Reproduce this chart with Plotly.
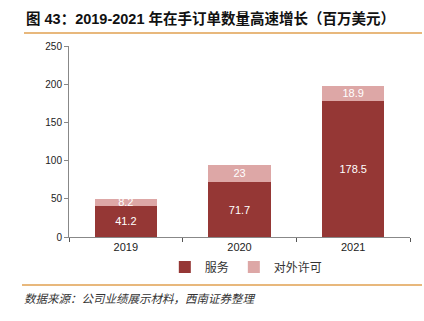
import plotly.graph_objects as go

years = ["2019", "2020", "2021"]
services = [41.2, 71.7, 178.5]
licensing = [8.2, 23, 18.9]
series_names = ["服务", "对外许可"]
y_ticks = [0, 50, 100, 150, 200, 250]

title_text = "图 43：2019-2021 年在手订单数量高速增长（百万美元）"
source_text = "数据来源：公司业绩展示材料，西南证券整理"

dark_red = "#953735"
light_pink = "#DDA7A6"
font_family = "Liberation Sans, Arial, Noto Sans CJK SC, sans-serif"

fig = go.Figure()
fig.add_trace(go.Bar(
    x=years, y=services, name=series_names[0],
    marker=dict(color=dark_red, line=dict(width=0)),
    text=[str(v) for v in services], textposition="inside",
    insidetextanchor="middle", constraintext="none",
    textfont=dict(color="white", size=11, family=font_family),
))
fig.add_trace(go.Bar(
    x=years, y=licensing, name=series_names[1],
    marker=dict(color=light_pink, line=dict(width=0)),
    text=[str(v) for v in licensing], textposition="inside",
    insidetextanchor="middle", constraintext="none",
    textfont=dict(color="white", size=11, family=font_family),
))

fig.update_layout(
    barmode="stack",
    bargap=0.45,
    width=424, height=321,
    margin=dict(l=69, r=14, t=46, b=84),
    paper_bgcolor="white", plot_bgcolor="white",
    font=dict(family=font_family, size=11, color="#222"),
    showlegend=True,
    legend=dict(
        orientation="h", x=0.52, xanchor="center",
        y=-(267 - 237) / 191, yanchor="middle",
        font=dict(size=12, family="Noto Sans CJK SC, sans-serif", color="#333"),
        itemwidth=30, traceorder="normal",
    ),
)

fig.update_yaxes(
    range=[0, 250], tickvals=y_ticks, showgrid=False,
    showline=True, linecolor="#888", linewidth=1,
    ticks="outside", ticklen=4, tickcolor="#888",
    tickfont=dict(size=10, color="#222"), zeroline=False,
)
fig.update_xaxes(
    showline=True, linecolor="#888", linewidth=1,
    ticks="outside", ticklen=4, tickcolor="#555", tickson="boundaries",
    tickfont=dict(size=11, color="#222"),
)

# Header title and rule
fig.add_annotation(
    text="<b>" + title_text + "</b>", xref="paper", yref="paper",
    x=(24 - 69) / 341, y=1 + (46 - 18) / 191, xanchor="left", yanchor="middle",
    showarrow=False,
    font=dict(size=14.5, family="Liberation Sans, Noto Sans CJK SC, sans-serif", color="#111"),
)
fig.add_shape(type="line", xref="paper", yref="paper",
              x0=(24 - 69) / 341, x1=(422 - 69) / 341,
              y0=1 + (46 - 33) / 191, y1=1 + (46 - 33) / 191,
              line=dict(color="#E0A050", width=1.5))

# Footer rule and source note
fig.add_shape(type="line", xref="paper", yref="paper",
              x0=(22 - 69) / 341, x1=(422 - 69) / 341,
              y0=-(285 - 237) / 191, y1=-(285 - 237) / 191,
              line=dict(color="#E0A050", width=1.5))
fig.add_annotation(
    text="<i>" + source_text + "</i>", xref="paper", yref="paper",
    x=(22 - 69) / 341, y=-(298 - 237) / 191, xanchor="left", yanchor="middle",
    showarrow=False,
    font=dict(size=11.5, family="Noto Sans CJK SC, sans-serif", color="#333"),
)

fig.write_html("out.html")
